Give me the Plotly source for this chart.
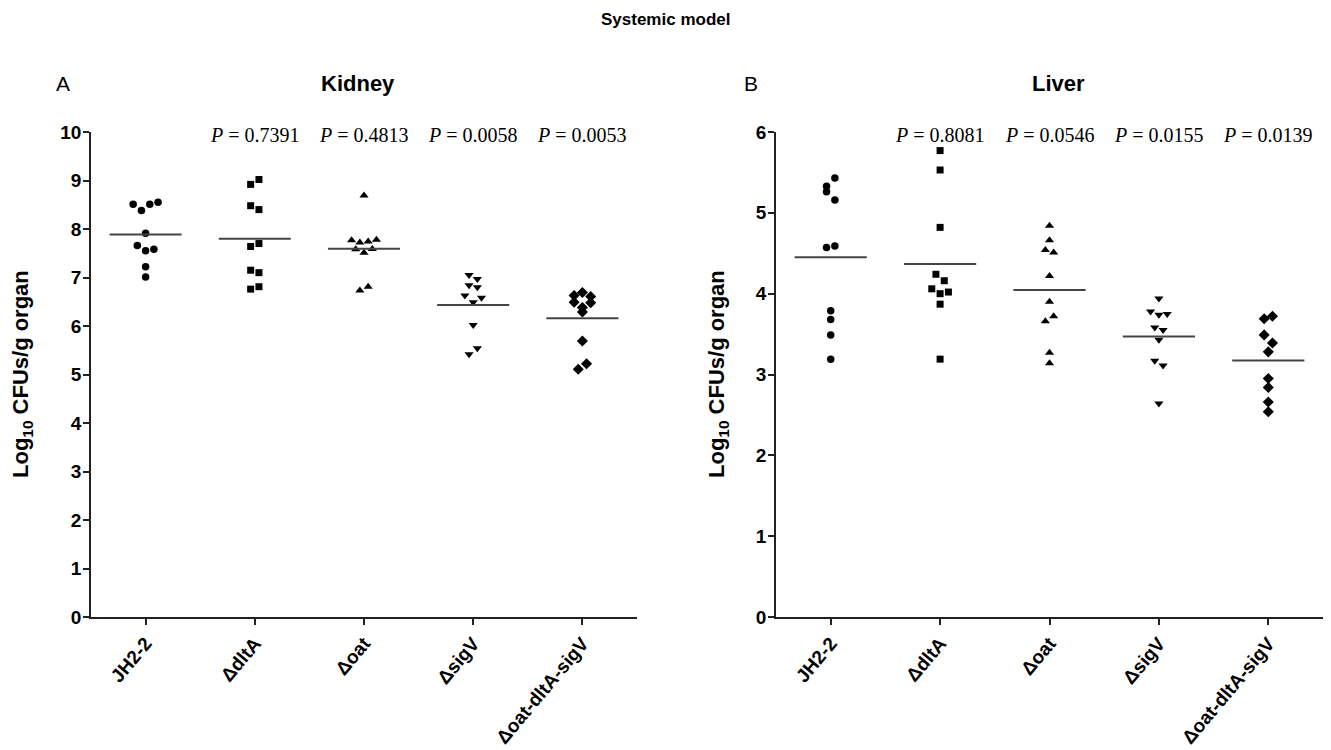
import numpy as np
import plotly.graph_objects as go

# ---------------- data ----------------
categories = ["JH2-2", "ΔdltA", "Δoat", "ΔsigV", "Δoat-dltA-sigV"]

kidney_jh22 = [8.51, 8.38, 8.51, 8.55, 7.91, 7.66, 7.55, 7.58, 7.22, 7.01]
kidney_dlta = [8.92, 9.02, 8.48, 8.40, 7.64, 7.70, 7.15, 7.10, 6.76, 6.81]
kidney_oat = [8.69, 7.77, 7.72, 7.74, 7.78, 7.58, 7.51, 7.59, 6.73, 6.81]
kidney_sigv = [7.05, 6.97, 6.84, 6.80, 6.63, 6.49, 6.58, 6.02, 5.42, 5.54]
kidney_triple = [6.63, 6.69, 6.61, 6.49, 6.38, 6.48, 6.29, 5.69, 5.11, 5.22]

liver_jh22 = [5.33, 5.43, 5.26, 5.16, 4.57, 4.59, 3.79, 3.68, 3.49, 3.19]
liver_dlta = [5.77, 5.53, 4.82, 4.24, 4.16, 4.06, 4.00, 4.02, 3.87, 3.19]
liver_oat = [4.84, 4.66, 4.54, 4.51, 4.22, 3.90, 3.66, 3.72, 3.27, 3.14]
liver_sigv = [3.94, 3.78, 3.74, 3.75, 3.58, 3.55, 3.43, 3.17, 3.11, 2.64]
liver_triple = [3.69, 3.72, 3.49, 3.39, 3.28, 2.95, 2.84, 2.66, 2.54]

kidney_p = ["0.7391", "0.4813", "0.0058", "0.0053"]
liver_p = ["0.8081", "0.0546", "0.0155", "0.0139"]

kidney_ticks = list(range(0, 11))
liver_ticks = list(range(0, 7))

# ---------------- layout constants ----------------
W, H = 1331, 750
PLOT_TOP, PLOT_BOTTOM = 132, 617
K_LEFT, K_RIGHT = 91, 637
L_LEFT, L_RIGHT = 776, 1323
ydom = [1 - PLOT_BOTTOM / H, 1 - PLOT_TOP / H]
plot_h = PLOT_BOTTOM - PLOT_TOP
cat_px = (K_RIGHT - K_LEFT) / 5.0
SLOT = 8.3 / cat_px          # horizontal slot step in category units
ROW_PX = 8.5                 # vertical collision distance in pixels

symbols = ["circle", "square", "triangle-up", "triangle-down", "diamond"]
sizes = [7.5, 7, 8, 8, 8.5]

FONT = "Liberation Sans, Arial, sans-serif"
SERIF = "Liberation Serif, Times New Roman, serif"


def swarm_offsets(vals, px_per_unit):
    """Group points into rows (by pixel proximity) and centre each row."""
    vals = np.asarray(vals, dtype=float)
    order = np.argsort(-vals, kind="stable")
    rows, cur, start = [], [], None
    for i in order:
        if start is None or (start - vals[i]) * px_per_unit < ROW_PX:
            if start is None:
                start = vals[i]
            cur.append(i)
        else:
            rows.append(cur)
            cur, start = [i], vals[i]
    if cur:
        rows.append(cur)
    off = np.zeros(len(vals))
    for r in rows:
        r = sorted(r)
        n = len(r)
        for k, i in enumerate(r):
            off[i] = (k - (n - 1) / 2.0) * SLOT
    return off


fig = go.Figure()

panels = [
    ("x", "y", [kidney_jh22, kidney_dlta, kidney_oat, kidney_sigv, kidney_triple], 10.0),
    ("x2", "y2", [liver_jh22, liver_dlta, liver_oat, liver_sigv, liver_triple], 6.0),
]

for xa, ya, groups, ymax in panels:
    ppu = plot_h / ymax
    for gi, vals in enumerate(groups):
        off = swarm_offsets(vals, ppu)
        fig.add_trace(go.Scatter(
            x=gi + off, y=vals, mode="markers", xaxis=xa, yaxis=ya,
            marker=dict(symbol=symbols[gi], size=sizes[gi], color="black",
                        line=dict(width=0)),
            showlegend=False, hoverinfo="y"))
        m = float(np.mean(vals))
        fig.add_trace(go.Scatter(
            x=[gi - 0.33, gi + 0.33], y=[m, m], mode="lines", xaxis=xa, yaxis=ya,
            line=dict(color="#444444", width=2), showlegend=False, hoverinfo="skip"))

axis_common = dict(
    showline=True, linecolor="#222222", linewidth=1.6, showgrid=False, zeroline=False,
    ticks="outside", ticklen=6, tickwidth=1.5, tickcolor="#222222", automargin=False,
)

xaxis_common = dict(axis_common, range=[-0.5, 4.5], tickvals=list(range(5)),
                    ticktext=categories, tickangle=-50,
                    tickfont=dict(family=FONT, size=19, color="black", weight="bold"))
yaxis_common = dict(axis_common, ticklabelstandoff=-2,
                    tickfont=dict(family=FONT, size=19, color="black", weight="bold"))

fig.update_layout(
    width=W, height=H, margin=dict(l=0, r=0, t=0, b=0, pad=0, autoexpand=False),
    paper_bgcolor="white", plot_bgcolor="white",
    xaxis=dict(xaxis_common, domain=[K_LEFT / W, K_RIGHT / W], anchor="y"),
    yaxis=dict(yaxis_common, domain=ydom, range=[0, 10], tickvals=kidney_ticks, anchor="x"),
    xaxis2=dict(xaxis_common, domain=[L_LEFT / W, L_RIGHT / W], anchor="y2"),
    yaxis2=dict(yaxis_common, domain=ydom, range=[0, 6], tickvals=liver_ticks, anchor="x2"),
)


def note(text, xp, yp, size, bold=False, family=FONT, **kw):
    f = dict(family=family, size=size, color="black")
    if bold:
        f["weight"] = "bold"
    d = dict(text=text, x=xp / W, y=1 - yp / H, xref="paper", yref="paper",
             xanchor="center", yanchor="middle", showarrow=False, font=f)
    d.update(kw)
    return d


ann = []
ann.append(note("Systemic model", 665, 20, 17, bold=True))
for letter, lx, title, tx in [("A", 63, "Kidney", 358), ("B", 751, "Liver", 1058)]:
    ann.append(note(letter, lx, 83, 21))
    ann.append(note(title, tx, 83, 22, bold=True))
for yx in [22, 718]:
    ann.append(note("Log<sub>10</sub> CFUs/g organ", yx, 374, 22, bold=True, textangle=-90))

for xa, pvals in [("x", kidney_p), ("x2", liver_p)]:
    for k, p in enumerate(pvals):
        ann.append(dict(text="<i>P</i> = " + p, x=k + 1, y=1 - 135 / H, xref=xa, yref="paper",
                        xanchor="center", yanchor="middle", showarrow=False,
                        font=dict(family=SERIF, size=20, color="black")))

fig.update_layout(annotations=ann)

fig.write_html("out.html")
